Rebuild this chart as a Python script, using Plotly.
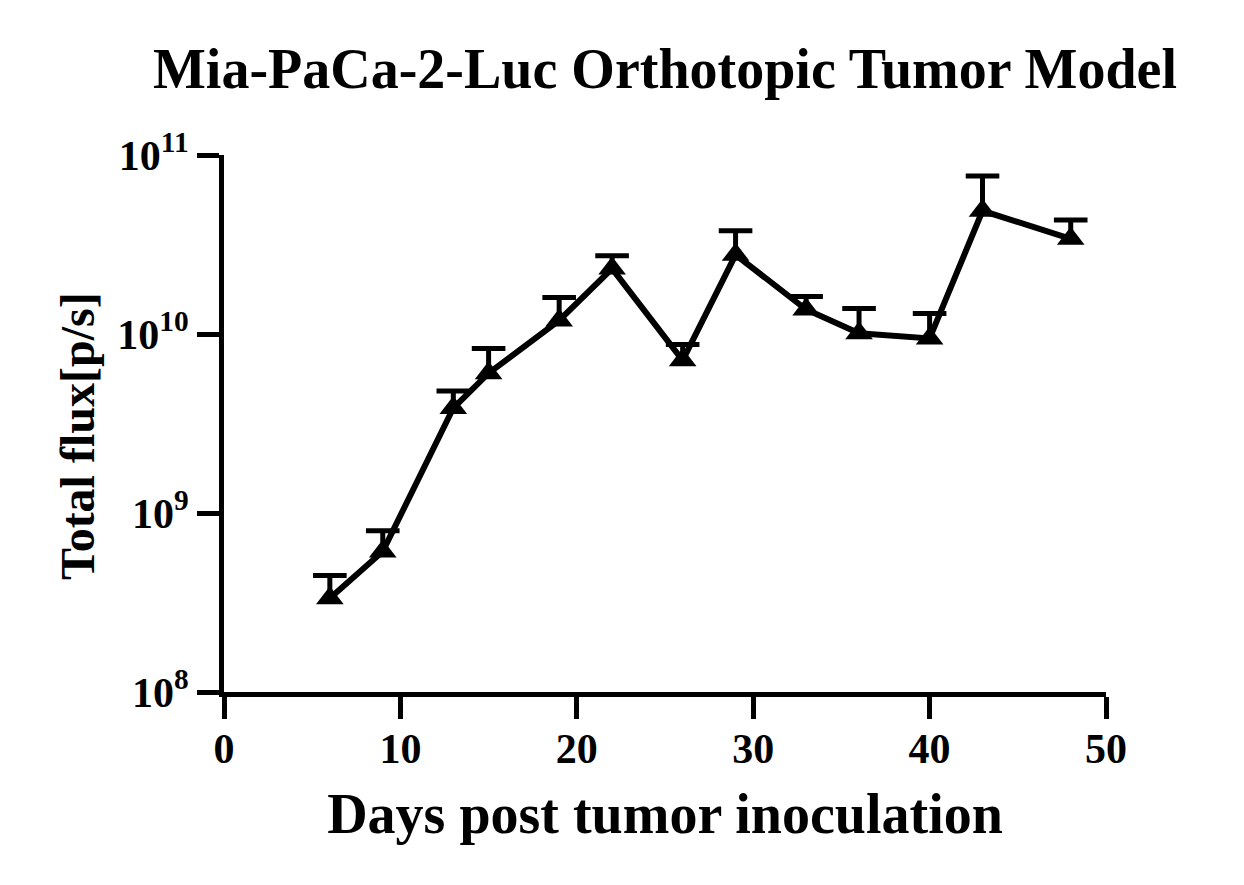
import plotly.graph_objects as go

# days post inoculation and mean total flux (p/s), upper error (mean + SEM)
days = [6, 9, 13, 15, 19, 22, 26, 29, 33, 36, 40, 43, 48]
flux = [3.34e8, 6.1e8, 3.86e9, 6.04e9, 1.19e10, 2.32e10, 7.13e9,
        2.77e10, 1.37e10, 1.01e10, 9.45e9, 4.88e10, 3.40e10]
flux_upper = [4.48e8, 7.96e8, 4.8e9, 8.3e9, 1.6e10, 2.74e10, 8.75e9,
              3.78e10, 1.62e10, 1.39e10, 1.30e10, 7.64e10, 4.34e10]

x_ticks = [0, 10, 20, 30, 40, 50]
y_ticks = [1e8, 1e9, 1e10, 1e11]
y_ticktext = ["<b>10<sup>8</sup></b>", "<b>10<sup>9</sup></b>",
              "<b>10<sup>10</sup></b>", "<b>10<sup>11</sup></b>"]

font_name = "Liberation Serif"

# error stems (one sided, upward)
stem_x, stem_y = [], []
for d, f, u in zip(days, flux, flux_upper):
    stem_x += [d, d, None]
    stem_y += [f, u, None]

fig = go.Figure()
fig.add_trace(go.Scatter(x=stem_x, y=stem_y, mode="lines",
                         line=dict(color="black", width=5),
                         hoverinfo="skip", showlegend=False))
fig.add_trace(go.Scatter(x=days, y=flux_upper, mode="markers",
                         marker=dict(symbol="line-ew", size=24,
                                     line=dict(color="black", width=5)),
                         hoverinfo="skip", showlegend=False))
fig.add_trace(go.Scatter(x=days, y=flux, mode="lines+markers",
                         line=dict(color="black", width=6),
                         marker=dict(symbol="triangle-up", size=24, color="black"),
                         showlegend=False))

# page body has an 8px margin, so the figure sits at (8, 8)
fig.update_layout(
    width=1244, height=885,
    margin=dict(l=216, r=146, t=147, b=201),
    plot_bgcolor="white", paper_bgcolor="white",
    font=dict(family=font_name, color="black"),
    title=dict(text="<b>Mia-PaCa-2-Luc Orthotopic Tumor Model</b>",
               x=0.5, xref="paper", xanchor="center",
               y=1 - 60 / 885, yref="container", yanchor="middle",
               font=dict(size=56, family=font_name, color="black")),
)

# y axis title as annotation so it can sit a little below the axis middle
fig.add_annotation(text="<b>Total flux[p/s]</b>", textangle=-90,
                   xref="paper", yref="paper", x=-0.166, y=0.476,
                   xanchor="center", yanchor="middle", showarrow=False,
                   font=dict(size=48, family=font_name, color="black"))

fig.update_xaxes(
    range=[0, 50], tickvals=x_ticks, ticktext=["<b>%d</b>" % t for t in x_ticks],
    showline=True, linecolor="black", linewidth=5,
    ticks="outside", ticklen=22, tickwidth=5, tickcolor="black",
    ticklabelstandoff=-6,
    showgrid=False, zeroline=False,
    tickfont=dict(size=42, family=font_name, color="black"),
    title=dict(text="<b>Days post tumor inoculation</b>", standoff=24,
               font=dict(size=56, family=font_name, color="black")),
)
fig.update_yaxes(
    type="log", range=[8, 11],
    tickvals=y_ticks, ticktext=y_ticktext,
    showline=True, linecolor="black", linewidth=5,
    ticks="outside", ticklen=22, tickwidth=5, tickcolor="black",
    showgrid=False, zeroline=False,
    tickfont=dict(size=42, family=font_name, color="black"),
)

fig.write_html("out.html")
